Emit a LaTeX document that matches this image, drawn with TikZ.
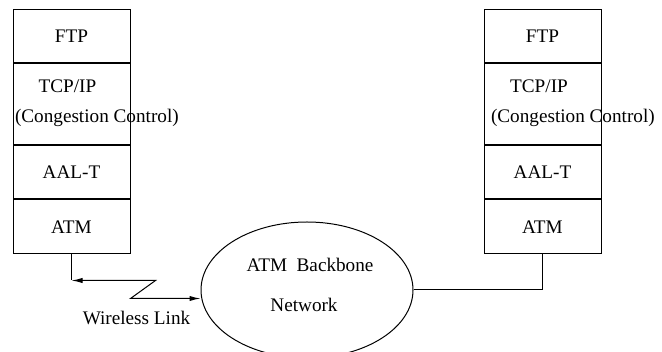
\documentclass[tikz,border=0pt]{standalone}
\usepackage{fontspec}
\setmainfont{Liberation Serif}
\usetikzlibrary{shapes,arrows.meta,positioning,calc}

\begin{document}
\begin{tikzpicture}[x=0.5pt, y=0.5pt, line width=0.5pt,
    every node/.style={font=\fontsize{9.6}{11.5}\selectfont},
    layer/.style={draw, minimum width=58.5pt, minimum height=26.5pt, inner sep=0pt},
    link/.style={{Latex[length=5.5pt,width=2.6pt]}-{Latex[length=5.5pt,width=2.6pt]}}]
    \useasboundingbox (0,0) rectangle (662,352);

    % Left end system stack
    \node[layer] (ftpL) at (71.5,315.5) {FTP};
    \node[layer, minimum height=40.5pt, below=0pt of ftpL] (tcpL) {};
    \node[layer, below=0pt of tcpL] (aalL) {AAL-T};
    \node[layer, minimum height=27pt, below=0pt of aalL] (atmL) {ATM};
    \node (tcptxtL) at ($(tcpL.center)+(-4,18)$) {TCP/IP};
    \node[anchor=west, inner sep=0pt] (cctxtL) at ($(tcpL.west)+(2,-13.5)$) {(Congestion Control)};

    % Right end system stack
    \node[layer] (ftpR) at (542.5,315.5) {FTP};
    \node[layer, minimum height=40.5pt, below=0pt of ftpR] (tcpR) {};
    \node[layer, below=0pt of tcpR] (aalR) {AAL-T};
    \node[layer, minimum height=27pt, below=0pt of aalR] (atmR) {ATM};
    \node (tcptxtR) at ($(tcpR.center)+(-3.5,18)$) {TCP/IP};
    \node[anchor=west, inner sep=0pt] (cctxtR) at ($(tcpR.west)+(7,-13.5)$) {(Congestion Control)};

    % Backbone cloud
    \node[draw, ellipse, minimum width=106pt, minimum height=68pt, inner sep=0pt] (net) at (307,62) {};
    \node (nettxtA) at (310,87) {ATM~~Backbone};
    \node (nettxtB) at (304,47) {Network};

    % Wireless hop (zigzag)
    \coordinate (wA) at ($(atmL.south)+(0,-26)$);
    \coordinate (wB) at ($(wA)+(84,0)$);
    \coordinate (wC) at ($(wA)+(59,-18)$);
    \draw (atmL.south) -- (wA);
    \draw[link] (wA) -- (wB) -- (wC) -- (wC -| net.west);
    \node (wltxt) at (136.5,34) {Wireless Link};

    % Wired side
    \draw (net.east) -| (atmR.south);
\end{tikzpicture}
\end{document}
